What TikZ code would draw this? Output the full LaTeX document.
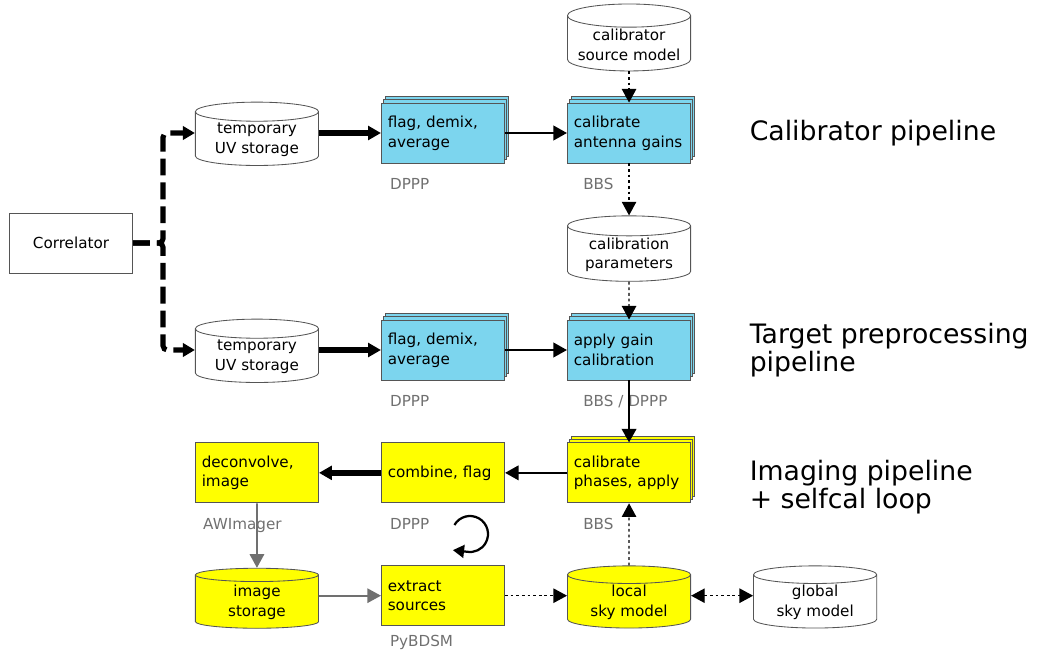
\documentclass[tikz,border=0pt]{standalone}
\usepackage{fontspec}
\setmainfont{DejaVu Sans}
\usepackage{tikz}
\usetikzlibrary{shapes.geometric, arrows.meta, positioning, shadows}
\definecolor{calblue}{HTML}{7CD5EE}
\definecolor{imgyellow}{HTML}{FFFF00}
\definecolor{edge}{HTML}{555555}
\definecolor{toolgray}{HTML}{707070}
\tikzset{
  boxtxt/.style={font=\fontsize{10.8}{14}\selectfont},
  plainbox/.style={rectangle, draw=edge, line width=0.6pt, fill=white, boxtxt, minimum width=3.08cm, minimum height=1.5cm},
  proc/.style={rectangle, draw=edge, line width=0.6pt, boxtxt, align=left, text width=2.76cm, inner xsep=0.16cm, minimum height=1.5cm},
  stack/.style={copy shadow={shadow xshift=0.1cm, shadow yshift=0.17cm}, copy shadow={shadow xshift=0.05cm, shadow yshift=0.085cm}},
  calproc/.style={proc, fill=calblue, stack},
  imgproc/.style={proc, fill=imgyellow},
  store/.style={cylinder, shape border rotate=90, aspect=0.22, draw=edge, line width=0.6pt, fill=white, boxtxt, align=center, minimum width=3.08cm, minimum height=1.5cm, inner sep=1pt},
  lowered/.style={yshift=-0.17cm},
  tool/.style={anchor=north west, inner sep=0pt, text=toolgray, font=\fontsize{10.8}{13}\selectfont},
  head/.style={align=left, inner xsep=0pt, font=\fontsize{19}{20}\selectfont},
  feed/.style={-{Triangle[length=3mm, width=3.3mm]}, line width=3.6pt, dash pattern=on 12pt off 5pt, rounded corners=3pt},
  bulk/.style={-{Triangle[length=3.2mm, width=3.4mm]}, line width=4.2pt},
  flow/.style={-{Triangle[length=3.4mm, width=3.6mm]}, line width=1.8pt},
  model/.style={-{Triangle[length=3.4mm, width=3.6mm]}, line width=0.9pt, dash pattern=on 2pt off 2pt},
  grayarr/.style={-{Triangle[length=3.4mm, width=3.6mm]}, line width=1.2pt, draw=toolgray, fill=toolgray},
  selfcal/.style={-{Triangle[length=2.8mm, width=3.2mm]}, line width=1.6pt},
}
\begin{document}
\begin{tikzpicture}[node distance=1.55cm and 1.55cm]
\useasboundingbox (0,0) rectangle (26.075,-16.25);
% calibrator pipeline
\node[plainbox] (corr) at (1.775,-6.075) {Correlator};
\node[calproc] (flagA) at (11.075,-3.325) {flag, demix,\\average};
\node[store, lowered, left=of flagA] (uvA) {temporary\\UV storage};
\node[calproc, right=of flagA] (calA) {calibrate\\antenna gains};
\node[store, lowered, minimum height=1.42cm, above=0.95cm of calA] (srcmod) {calibrator\\source model};
\node[store, lowered, minimum height=1.42cm, below=1.13cm of calA] (calpar) {calibration\\parameters};
% target preprocessing
\node[calproc] (flagB) at (11.075,-8.75) {flag, demix,\\average};
\node[calproc, right=of flagB] (applyB) {apply gain\\calibration};
\node[store, lowered, left=of flagB] (uvB) {temporary\\UV storage};
% imaging + selfcal
\node[imgproc, stack, below=1.55cm of applyB] (phases) {calibrate\\phases, apply};
\node[imgproc, left=of phases] (combine) {combine, flag};
\node[imgproc, left=of combine] (decon) {deconvolve,\\image};
\node[imgproc, below=1.55cm of combine] (extract) {extract\\sources};
\node[store, lowered, fill=imgyellow, right=of extract] (localsky) {local\\sky model};
\node[store, lowered, fill=imgyellow, left=of extract] (imstore) {image\\storage};
\node[store, right=of localsky] (globalsky) {global\\sky model};
% tool names
\node[tool] (flagAtool) at ([xshift=0.22cm, yshift=-0.36cm]flagA.south west) {DPPP};
\node[tool] (calAtool) at ([xshift=0.4cm, yshift=-0.36cm]calA.south west) {BBS};
\node[tool] (flagBtool) at ([xshift=0.22cm, yshift=-0.36cm]flagB.south west) {DPPP};
\node[tool] (applyBtool) at ([xshift=0.4cm, yshift=-0.36cm]applyB.south west) {BBS / DPPP};
\node[tool] (phasestool) at ([xshift=0.4cm, yshift=-0.36cm]phases.south west) {BBS};
\node[tool] (combinetool) at ([xshift=0.22cm, yshift=-0.36cm]combine.south west) {DPPP};
\node[tool] (decontool) at ([xshift=0.2cm, yshift=-0.36cm]decon.south west) {AWImager};
\node[tool] (extracttool) at ([xshift=0.22cm, yshift=-0.22cm]extract.south west) {PyBDSM};
% headings
\node[head, right=1.46cm of calA] (calhead) {Calibrator pipeline};
\node[head, right=1.46cm of applyB] (tgthead) {Target preprocessing\\pipeline};
\node[head, right=1.46cm of phases, yshift=-0.35cm] (imghead) {Imaging pipeline\\+ selfcal loop};
% connectors
\coordinate[right=0.75cm of corr.east] (split);
\draw[feed] (corr.east) -- (split) |- (uvA.west |- flagA);
\draw[feed] (corr.east) -- (split) |- (uvB.west |- flagB);
\draw[bulk] (uvA.east |- flagA) -- (flagA);
\draw[flow] (flagA) -- (calA);
\draw[model] (srcmod) -- (calA);
\draw[model] (calA) -- (calpar);
\draw[model] (calpar) -- (applyB);
\draw[bulk] (uvB.east |- flagB) -- (flagB);
\draw[flow] (flagB) -- (applyB);
\draw[flow] (applyB) -- (phases);
\draw[flow] (phases) -- (combine);
\draw[bulk] (combine) -- (decon);
\draw[grayarr] (decon) -- (imstore);
\draw[grayarr] (imstore.east |- extract) -- (extract);
\draw[model] (extract) -- (localsky.west |- extract);
\draw[model] (localsky) -- (phases);
\draw[model, {Triangle[length=3.4mm, width=3.6mm]}-{Triangle[length=3.4mm, width=3.6mm]}] (localsky.east |- extract) -- (globalsky.west |- extract);
% selfcal loop sign
\coordinate (loopc) at (11.75,-13.35);
\draw[selfcal] ([shift={(150:0.45cm)}]loopc) arc[start angle=150, end angle=-100, radius=0.45cm] -- ++(-0.35cm,0.04cm);
\end{tikzpicture}
\end{document}
